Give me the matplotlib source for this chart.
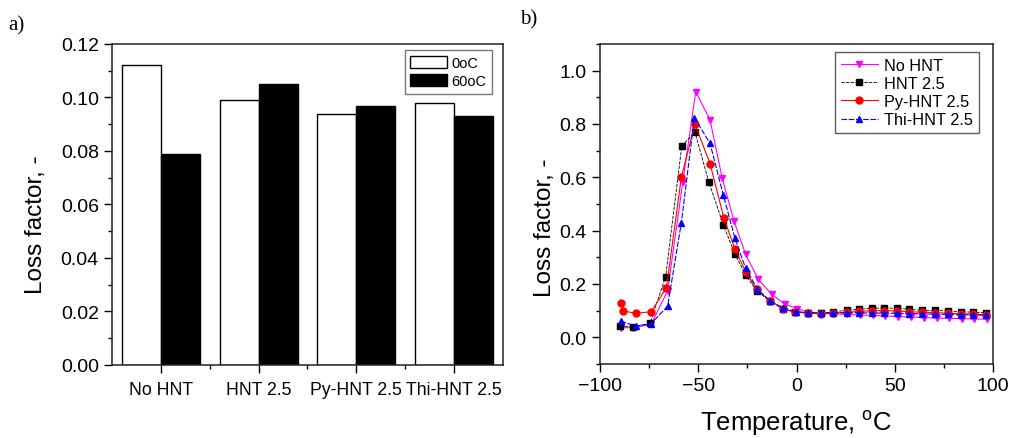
import matplotlib
matplotlib.use("Agg")
import matplotlib.pyplot as plt
from matplotlib.ticker import MultipleLocator, FixedLocator, FormatStrFormatter
import numpy as np

plt.rcParams['font.family'] = ['Liberation Sans', 'DejaVu Sans']
plt.rcParams['mathtext.fontset'] = 'custom'
plt.rcParams['mathtext.rm'] = 'Liberation Sans'
plt.rcParams['mathtext.it'] = 'Liberation Sans'

# === DATA: panel a) ===
samples = ['No HNT', 'HNT 2.5', 'Py-HNT 2.5', 'Thi-HNT 2.5']
loss_0C = [0.112, 0.099, 0.094, 0.098]
loss_60C = [0.079, 0.105, 0.097, 0.093]

# === DATA: panel b) ===
t_nohnt = [-89.5, -83.0, -74.0, -65.6, -57.9, -51.3, -44.0, -37.8, -31.8, -25.9, -19.4, -12.6, -5.9, 0.4,
           6.0, 12.3, 18.7, 25.5, 32.3, 38.8, 45.0, 51.5, 58.1, 64.9, 71.3, 77.8, 84.0, 90.3, 96.8]
v_nohnt = [0.036, 0.036, 0.049, 0.174, 0.582, 0.921, 0.815, 0.596, 0.436, 0.311, 0.217, 0.161, 0.124, 0.108,
           0.093, 0.090, 0.088, 0.086, 0.084, 0.082, 0.080, 0.078, 0.076, 0.074, 0.072, 0.071, 0.070, 0.069, 0.068]

t_hnt = [-89.8, -83.0, -74.6, -66.6, -58.4, -51.7, -44.7, -37.2, -31.3, -25.9, -20.3, -13.5, -6.7, -0.8,
         6.0, 12.3, 18.7, 25.5, 32.0, 38.3, 44.5, 51.0, 57.4, 63.9, 70.5, 77.3, 83.7, 90.0, 96.3]
v_hnt = [0.042, 0.040, 0.052, 0.228, 0.717, 0.770, 0.584, 0.421, 0.311, 0.234, 0.174, 0.136, 0.108, 0.095,
         0.090, 0.090, 0.096, 0.101, 0.105, 0.109, 0.110, 0.109, 0.105, 0.101, 0.101, 0.099, 0.096, 0.094, 0.093]

t_py = [-89.5, -88.1, -81.8, -74.0, -66.2, -58.6, -51.7, -44.0, -36.9, -31.3, -25.9, -20.3, -13.5, -6.7, -0.8,
        6.0, 12.3, 18.7, 25.5, 32.0, 38.3, 44.5, 51.0, 57.4, 63.9, 70.5, 77.3, 83.7, 90.0, 96.3]
v_py = [0.127, 0.099, 0.090, 0.096, 0.186, 0.601, 0.800, 0.651, 0.446, 0.330, 0.246, 0.180, 0.137, 0.105, 0.095,
        0.091, 0.088, 0.091, 0.094, 0.097, 0.100, 0.100, 0.099, 0.096, 0.094, 0.093, 0.090, 0.088, 0.087, 0.085]

t_thi = [-89.5, -81.8, -74.0, -65.6, -58.6, -52.0, -44.0, -37.2, -31.3, -25.9, -20.0, -13.5, -7.0, -0.4,
         6.0, 12.3, 18.7, 25.5, 32.0, 38.3, 44.5, 51.0, 57.4, 63.9, 70.5, 77.3, 83.7, 90.0, 96.3]
v_thi = [0.061, 0.042, 0.051, 0.117, 0.430, 0.824, 0.727, 0.532, 0.371, 0.259, 0.182, 0.136, 0.111, 0.096,
         0.093, 0.092, 0.092, 0.092, 0.092, 0.091, 0.091, 0.090, 0.089, 0.088, 0.087, 0.086, 0.085, 0.084, 0.083]

fig = plt.figure(figsize=(10.11, 4.39), dpi=100)
ax1 = fig.add_axes([0.1108, 0.1663, 0.3867, 0.7312])
ax2 = fig.add_axes([0.5935, 0.1686, 0.3887, 0.7289])

tick_fs = 14
label_fs = 17.5

for ax in (ax1, ax2):
    for s in ax.spines.values():
        s.set_linewidth(1.1)
        s.set_color('#222222')
    ax.tick_params(which='major', direction='out', length=5.5, width=1.0, labelsize=tick_fs, pad=4)
    ax.tick_params(which='minor', direction='out', length=3, width=1.0)
    ax.tick_params(top=False, right=False, which='both')

# === panel a) ===
x = np.arange(len(samples))
w = 0.4
ax1.bar(x - w / 2, loss_0C, w, color='white', edgecolor='black', linewidth=1.0, label='0oC')
ax1.bar(x + w / 2, loss_60C, w, color='black', edgecolor='black', linewidth=1.0, label='60oC')
ax1.set_xlim(-0.5, 3.5)
ax1.set_ylim(0, 0.12)
ax1.set_xticks(x)
ax1.set_xticklabels(samples)
ax1.xaxis.set_minor_locator(FixedLocator([0.5, 1.5, 2.5]))
ax1.yaxis.set_major_locator(MultipleLocator(0.02))
ax1.yaxis.set_minor_locator(MultipleLocator(0.01))
ax1.yaxis.set_major_formatter(FormatStrFormatter('%.2f'))
ax1.tick_params(axis='x', labelsize=12.7, pad=6)
ax1.set_ylabel('Loss factor, -', fontsize=label_fs)
ax1.yaxis.set_label_coords(-0.166, 0.44)
leg1 = ax1.legend(loc='upper right', bbox_to_anchor=(0.972, 0.981), borderaxespad=0,
                  fontsize=10.5, frameon=True, fancybox=False,
                  handlelength=2.5, handleheight=0.9, handletextpad=0.3, borderpad=0.4,
                  labelspacing=0.3)
leg1.get_frame().set_edgecolor('#555555')
leg1.get_frame().set_linewidth(1.0)

# === panel b) ===
ax2.plot(t_nohnt, v_nohnt, color='#ff00ff', marker='v', markersize=5, linewidth=0.8, label='No HNT')
ax2.plot(t_hnt, v_hnt, color='black', marker='s', markersize=4.3, linewidth=0.6, linestyle='--',
         dashes=(4, 1.5), label='HNT 2.5')
ax2.plot(t_py, v_py, color='#ff0000', marker='o', markersize=5, linewidth=0.8, label='Py-HNT 2.5')
ax2.plot(t_thi, v_thi, color='#0000ff', marker='^', markersize=5, linewidth=0.8, linestyle='--',
         dashes=(5, 1.5), label='Thi-HNT 2.5')
ax2.set_xlim(-100, 100)
ax2.set_ylim(-0.1, 1.1)
ax2.xaxis.set_major_locator(MultipleLocator(50))
ax2.xaxis.set_minor_locator(MultipleLocator(25))
ax2.yaxis.set_major_locator(MultipleLocator(0.2))
ax2.yaxis.set_minor_locator(MultipleLocator(0.1))
ax2.yaxis.set_major_formatter(FormatStrFormatter('%.1f'))
ax2.set_ylabel('Loss factor, -', fontsize=label_fs)
ax2.yaxis.set_label_coords(-0.112, 0.43)
ax2.set_xlabel('Temperature, $^{\\mathrm{o}}$C', fontsize=18.5, labelpad=10)
leg2 = ax2.legend(loc='upper right', bbox_to_anchor=(0.9644, 0.975), borderaxespad=0,
                  fontsize=11.7, frameon=True, fancybox=False,
                  handlelength=2.3, handletextpad=0.4, borderpad=0.35,
                  labelspacing=0.2)
leg2.get_frame().set_edgecolor('#333333')
leg2.get_frame().set_linewidth(1.0)

fig.text(0.008, 0.94, 'a)', family='Liberation Serif', fontsize=15, va='center')
fig.text(0.514, 0.955, 'b)', family='Liberation Serif', fontsize=15, va='center')

fig.savefig('out.png', dpi=100, facecolor='white')
